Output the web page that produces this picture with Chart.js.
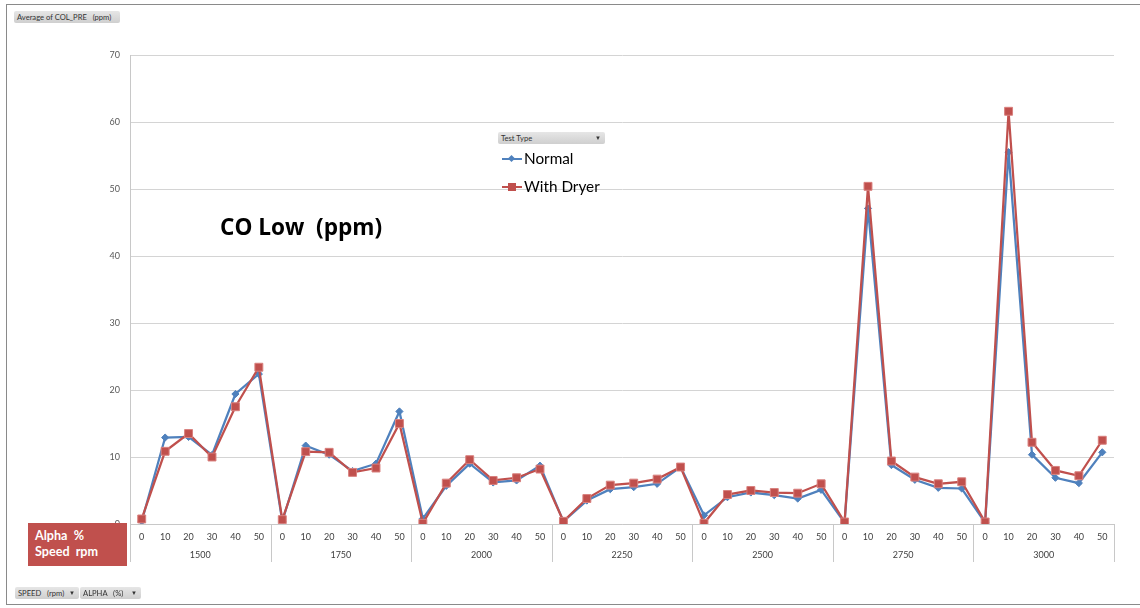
<!DOCTYPE html>
<html>
<head>
<meta charset="utf-8">
<script src="https://cdn.jsdelivr.net/npm/chart.js@4.4.1/dist/chart.umd.min.js"></script>
<style>
  html,body{margin:0;padding:0;background:#fff;overflow:hidden;width:1140px;height:608px;}
  #wrap{position:relative;width:1140px;height:608px;font-family:Lato,"Open Sans",sans-serif;}
  canvas{position:absolute;left:0;top:0;}
  .frame{position:absolute;left:6px;top:4px;width:1150px;height:601px;border:1px solid #8a8a8a;box-sizing:border-box;}
  .btn{position:absolute;height:12px;background:linear-gradient(#e6e6e6,#cfcfcf);border-radius:2px;font-size:7.6px;color:#333;line-height:12px;padding-left:3px;box-sizing:border-box;white-space:pre;}
  .btn .dd{position:absolute;right:4px;top:0;font-size:6px;}
  #title{position:absolute;left:220px;top:211px;font-size:22.6px;font-weight:bold;color:#000;white-space:pre;font-family:"Open Sans",Lato,sans-serif;letter-spacing:0px;}
  #legend{position:absolute;left:500px;top:147px;font-size:15.3px;color:#000;}
  .li{height:28px;line-height:22px;position:relative;padding-left:24px;}
  .li .ln{position:absolute;left:2px;top:11px;width:20px;height:2px;}
  .li .mk{position:absolute;}
  #axbox{position:absolute;left:28px;top:523px;width:99px;height:43px;background:#c0504d;color:#fff;font-weight:bold;font-size:12.6px;line-height:16px;padding:5px 0 0 7px;box-sizing:border-box;white-space:pre;}
</style>
</head>
<body>
<div id="wrap">
  <canvas id="c" width="1140" height="608"></canvas>
  <div class="frame"></div>
  <div class="btn" style="left:14px;top:11px;width:106px;">Average of COL_PRE   (ppm)</div>
  <div class="btn" style="left:498px;top:132px;width:107px;">Test Type<span class="dd">▼</span></div>
  <div class="btn" style="left:15px;top:587px;width:64px;">SPEED   (rpm)<span class="dd">▼</span></div>
  <div class="btn" style="left:80px;top:587px;width:61px;">ALPHA   (%)<span class="dd">▼</span></div>
  <div id="title">CO Low  (ppm)</div>
  <div id="legend"></div>
  <div id="axbox">Alpha  %
Speed  rpm</div>
</div>
<script>
// ---- data ----
const speeds = ['1500','1750','2000','2250','2500','2750','3000'];
const alphas = ['0','10','20','30','40','50'];
const seriesNames = ['Normal','With Dryer'];
const normal = [
  0.4, 12.9, 13.0, 10.3, 19.4, 22.4,
  0.4, 11.7, 10.35, 7.9, 9.0, 16.8,
  0.8, 5.7, 9.0, 6.2, 6.5, 8.7,
  0.4, 3.5, 5.2, 5.5, 6.0, 8.5,
  1.3, 4.0, 4.7, 4.3, 3.8, 5.1,
  0.2, 47.1, 8.8, 6.6, 5.4, 5.3,
  0.2, 55.5, 10.35, 6.9, 6.1, 10.7
];
const withDryer = [
  0.75, 10.85, 13.5, 10.0, 17.5, 23.4,
  0.65, 10.8, 10.7, 7.7, 8.35, 15.0,
  0.1, 6.1, 9.6, 6.5, 6.9, 8.2,
  0.4, 3.8, 5.8, 6.1, 6.7, 8.5,
  0.1, 4.4, 5.0, 4.7, 4.6, 6.0,
  0.3, 50.4, 9.4, 7.0, 6.0, 6.3,
  0.3, 61.6, 12.2, 8.0, 7.2, 12.5
];
const yTicks = [0,10,20,30,40,50,60,70];

const labels = [];
speeds.forEach(s => alphas.forEach(a => labels.push(a)));

const BLUE = '#4f81bd', RED = '#c0504d';

const groupPlugin = {
  id: 'groups',
  afterDraw(chart) {
    const x = chart.scales.x, ctx = chart.ctx;
    const n = alphas.length;
    const step = x.getPixelForValue(1) - x.getPixelForValue(0);
    const top = chart.chartArea.bottom;
    ctx.save();
    ctx.strokeStyle = '#c8c8c8';
    ctx.lineWidth = 1;
    for (let g = 0; g <= speeds.length; g++) {
      const px = Math.round(x.getPixelForValue(g * n) - step / 2) + 0.5;
      ctx.beginPath(); ctx.moveTo(px, top); ctx.lineTo(px, top + 38); ctx.stroke();
    }
    ctx.fillStyle = '#404040';
    ctx.font = '9px Lato, "Open Sans", sans-serif';
    ctx.textAlign = 'center'; ctx.textBaseline = 'middle';
    speeds.forEach((s, g) => {
      const cx = (x.getPixelForValue(g * n) + x.getPixelForValue(g * n + n - 1)) / 2;
      ctx.fillText(s, cx, top + 31);
    });
    ctx.restore();
  }
};

const chart = new Chart(document.getElementById('c'), {
  type: 'line',
  data: {
    labels,
    datasets: [
      { label: seriesNames[0], data: normal, borderColor: BLUE, backgroundColor: BLUE,
        borderWidth: 2.25, pointStyle: 'rectRot', pointRadius: 3.6, pointBorderWidth: 1,
        tension: 0, order: 2 },
      { label: seriesNames[1], data: withDryer, borderColor: RED, backgroundColor: RED,
        borderWidth: 2.25, pointStyle: 'rect', pointRadius: 5.6, pointBorderWidth: 1,
        pointBorderColor: '#d9807e', tension: 0, order: 1 }
    ]
  },
  options: {
    responsive: false,
    animation: false,
    events: [],
    layout: { padding: { top: 55, right: 26, left: 0, bottom: 0 } },
    plugins: { legend: { display: false }, tooltip: { enabled: false } },
    scales: {
      x: {
        offset: true,
        grid: { display: false, drawTicks: false, offset: true },
        border: { display: true, color: '#c8c8c8', width: 1 },
        ticks: { color: '#404040', font: { size: 9, family: 'Lato, "Open Sans", sans-serif' },
                 padding: 8, maxRotation: 0, autoSkip: false },
        afterFit(s) { s.height = 84; }
      },
      y: {
        min: 0, max: 70,
        afterBuildTicks(s) { s.ticks = yTicks.map(v => ({ value: v })); },
        grid: { color: '#d4d4d4', drawTicks: false, lineWidth: 1 },
        border: { display: true, color: '#c8c8c8', width: 1 },
        ticks: { color: '#595959', font: { size: 9, family: 'Lato, "Open Sans", sans-serif' }, padding: 10 },
        afterFit(s) { s.width = 130; }
      }
    }
  },
  plugins: [groupPlugin]
});

// HTML legend built from the chart's datasets
const leg = document.getElementById('legend');
chart.data.datasets.forEach(ds => {
  const d = document.createElement('div'); d.className = 'li';
  const ln = document.createElement('span'); ln.className = 'ln'; ln.style.background = ds.borderColor;
  const mk = document.createElement('span'); mk.className = 'mk';
  if (ds.pointStyle === 'rect') {
    Object.assign(mk.style, { left: '8px', top: '8px', width: '8px', height: '8px', background: ds.backgroundColor });
  } else {
    Object.assign(mk.style, { left: '9px', top: '9px', width: '5px', height: '5px', background: ds.backgroundColor, transform: 'rotate(45deg)' });
  }
  d.appendChild(ln); d.appendChild(mk);
  d.appendChild(document.createTextNode(ds.label));
  leg.appendChild(d);
});
</script>
</body>
</html>
